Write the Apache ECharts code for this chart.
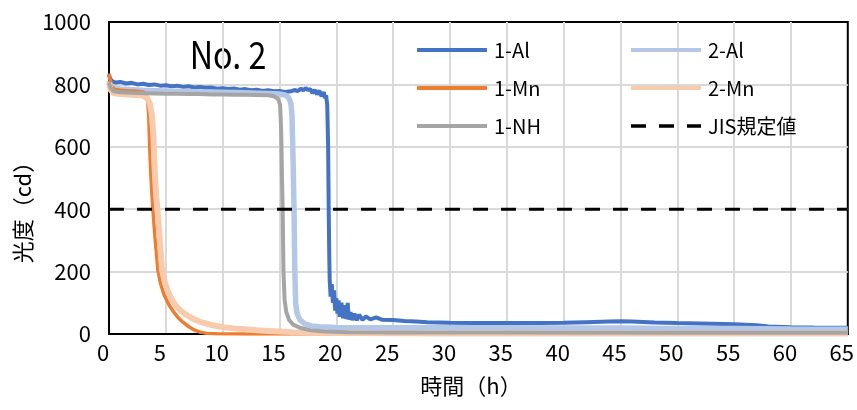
<!DOCTYPE html>
<html>
<head>
<meta charset="utf-8">
<script src="https://cdn.jsdelivr.net/npm/echarts@6/dist/echarts.min.js"></script>
<style>
  html, body { margin: 0; padding: 0; background: #fff; }
  #chart { width: 857px; height: 410px; }
</style>
</head>
<body>
<div id="chart"></div>
<script>
// ---- data ----
const xTicks = [0, 5, 10, 15, 20, 25, 30, 35, 40, 45, 50, 55, 60, 65];
const yTicks = [0, 200, 400, 600, 800, 1000];
const seriesNames = ['1-Al', '2-Al', '1-Mn', '2-Mn', '1-NH', 'JIS規定値'];

const al1 = [[0,832],[0.1,818],[0.3,810],[0.6,806],[1,808],[1.5,803],[2,805],[2.5,800],[3,802],[3.5,798],[4,800],[4.5,796],[5,797],[5.5,794],[6,796],[6.5,792],[7,794],[7.5,790],[8,792],[8.5,789],[9,790],[9.5,786],[10,788],[10.5,785],[11,787],[11.5,783],[12,785],[12.5,781],[13,783],[13.5,779],[14,781],[14.5,778],[15,779],[15.5,776],[16,778],[16.3,782],[16.6,779],[16.9,786],[17.1,781],[17.3,788],[17.5,782],[17.7,785],[17.9,772],[18.1,782],[18.3,768],[18.5,780],[18.7,762],[18.9,775],[19.0,756],[19.1,765],[19.2,735],[19.28,600],[19.33,400],[19.38,250],[19.42,170],[19.5,120],[19.6,160],[19.7,100],[19.8,140],[19.9,75],[20.0,115],[20.1,65],[20.2,108],[20.3,55],[20.45,100],[20.6,50],[20.75,92],[20.9,48],[21.0,100],[21.1,46],[21.25,70],[21.4,45],[21.6,65],[21.8,44],[22.0,62],[22.3,45],[22.6,56],[23,47],[23.5,53],[24,46],[25,45],[26,42],[27,40],[28,38],[29,37],[30,36],[32,35],[34,35],[36,35],[38,35],[40,36],[42,38],[44,40],[45,41],[46,40],[48,37],[50,35],[52,34],[54,32],[55,31],[56,30],[57,28],[58,24],[60,22],[62,21],[65,20]];

const al2 = [[0,812],[0.15,795],[0.4,788],[1,785],[2,783],[3,781],[4,780],[5,779],[6,778],[7,777],[8,776],[9,776],[10,775],[11,774],[12,773],[13,772],[14,771],[15,769],[15.5,766],[15.8,758],[16.0,740],[16.1,700],[16.2,550],[16.28,400],[16.35,200],[16.42,100],[16.55,65],[16.8,45],[17.2,33],[17.8,26],[18.5,23],[20,21],[22,20],[25,20],[30,20],[35,20],[40,19],[45,19],[50,18],[55,18],[60,16],[65,15]];

const mn1 = [[0,835],[0.08,815],[0.2,795],[0.5,784],[1,781],[1.5,780],[2,779],[2.5,778],[3,776],[3.25,768],[3.4,750],[3.5,700],[3.58,600],[3.7,500],[3.86,400],[4.05,310],[4.3,205],[4.55,160],[4.85,125],[5.3,92],[5.7,70],[6.1,52],[6.5,38],[7.0,24],[7.5,13],[8.0,6],[8.6,2],[9.5,0.5],[12,0],[65,0]];

const mn2 = [[0,805],[0.15,782],[0.4,772],[1,769],[2,767],[3,764],[3.35,756],[3.6,738],[3.78,700],[3.9,640],[3.98,560],[4.07,490],[4.16,440],[4.26,400],[4.47,300],[4.67,205],[4.92,165],[5.2,135],[5.5,112],[5.9,90],[6.4,72],[7.0,57],[7.5,47],[8.0,39],[9.0,29],[10,22],[11,18],[12,15],[13,12],[14,10],[15,8],[16,6],[18,4],[20,3],[30,2],[65,2]];

const nh1 = [[0,805],[0.15,788],[0.4,778],[1,775],[2,773],[3,772],[4,771],[5,770],[6,770],[7,769],[8,769],[9,768],[10,768],[11,767],[12,767],[13,766],[14,765],[14.5,762],[14.85,755],[15.05,735],[15.15,650],[15.22,500],[15.28,400],[15.35,200],[15.45,110],[15.6,70],[15.85,45],[16.2,30],[16.8,20],[17.7,12],[19,8],[21,6],[25,5],[35,5],[50,4],[65,4]];

const jis = [[0,400],[65,400]];

// ---- chart ----
const FONT = '"Noto Sans CJK JP", "Noto Sans", sans-serif';
const chart = echarts.init(document.getElementById('chart'), null, { renderer: 'canvas' });

function lineSeries(name, data, color, width, extra) {
  return Object.assign({
    name: name,
    type: 'line',
    data: data,
    showSymbol: false,
    symbol: 'none',
    silent: true,
    lineStyle: { color: color, width: width },
    itemStyle: { color: color }
  }, extra || {});
}

const legendCommon = {
  orient: 'vertical',
  padding: 0,
  itemWidth: 70,
  itemHeight: 20,
  itemGap: 18,
  selectedMode: false,
  itemStyle: { opacity: 0, color: 'transparent', borderWidth: 0 },
  textStyle: { fontSize: 20, color: '#000', fontFamily: FONT, padding: [0, 0, 0, 2] }
};

function legendItem(name, width) {
  return { name: name, lineStyle: { width: width } };
}

chart.setOption({
  animation: false,
  backgroundColor: '#fff',
  grid: {
    left: 109, right: 9, top: 22, bottom: 76,
    show: true, borderColor: '#000', borderWidth: 2, backgroundColor: 'transparent'
  },
  legend: [
    Object.assign({ left: 415, top: 40,
      data: [legendItem(seriesNames[0], 4), legendItem(seriesNames[2], 4), legendItem(seriesNames[4], 4)] }, legendCommon),
    Object.assign({ left: 629, top: 40,
      data: [legendItem(seriesNames[1], 4), legendItem(seriesNames[3], 4), legendItem(seriesNames[5], 3.5)] }, legendCommon)
  ],
  xAxis: {
    type: 'value',
    min: xTicks[0], max: xTicks[xTicks.length - 1], interval: xTicks[1] - xTicks[0],
    axisLine: { show: true, lineStyle: { color: '#000', width: 2 } },
    axisTick: { show: false },
    axisLabel: { fontSize: 22, color: '#000', fontFamily: FONT, margin: 8, padding: [0, 12, 0, 0],
      formatter: v => String(v) },
    splitLine: { show: true, showMinLine: false, showMaxLine: false, lineStyle: { color: '#d9d9d9', width: 2 } }
  },
  yAxis: {
    type: 'value',
    min: yTicks[0], max: yTicks[yTicks.length - 1], interval: yTicks[1] - yTicks[0],
    axisLine: { show: true, lineStyle: { color: '#000', width: 2 } },
    axisTick: { show: false },
    axisLabel: { fontSize: 22, color: '#000', fontFamily: FONT, margin: 18,
      formatter: v => String(v) },
    splitLine: { show: true, showMinLine: false, showMaxLine: false, lineStyle: { color: '#d9d9d9', width: 2 } }
  },
  graphic: [
    { type: 'text', x: 228, y: 55, scaleX: 0.85, silent: true,
      style: { text: 'No. 2', font: '38px ' + FONT, fill: '#000', textAlign: 'center', textVerticalAlign: 'middle' } },
    { type: 'text', x: 471, y: 386, silent: true,
      style: { text: '時間（h）', font: '22px ' + FONT, fill: '#000', textAlign: 'center', textVerticalAlign: 'middle' } },
    { type: 'text', x: 23, y: 207, rotation: Math.PI / 2, silent: true,
      style: { text: '光度（cd）', font: '22px ' + FONT, fill: '#000', textAlign: 'center', textVerticalAlign: 'middle' } }
  ],
  series: [
    lineSeries(seriesNames[0], al1, '#4472c4', 4),
    lineSeries(seriesNames[1], al2, '#b4c7e7', 5.5),
    lineSeries(seriesNames[2], mn1, '#ed7d31', 3.5),
    lineSeries(seriesNames[3], mn2, '#f8cbad', 6),
    lineSeries(seriesNames[4], nh1, '#a5a5a5', 4),
    lineSeries(seriesNames[5], jis, '#000000', 3, { lineStyle: { color: '#000', width: 3, type: [15, 13] } })
  ]
});
</script>
</body>
</html>
